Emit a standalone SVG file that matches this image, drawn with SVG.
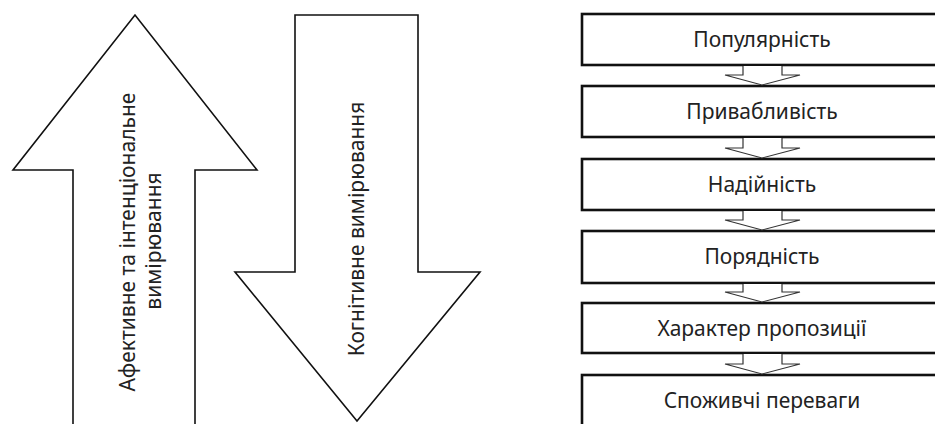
<svg xmlns="http://www.w3.org/2000/svg" width="935" height="424" viewBox="0 0 935 424">
<style>
.big{fill:#fff;stroke:#111;stroke-width:1.6;stroke-linejoin:miter}
.box{fill:#fff;stroke:#111;stroke-width:2.6}
.con{fill:#fff;stroke:#333;stroke-width:1.2;stroke-linejoin:miter}
text{font-family:"Noto Sans","Open Sans",sans-serif;fill:#222}
.bt{font-size:21px;text-anchor:middle}
.at{font-size:21px;text-anchor:middle}
</style>
<rect width="935" height="424" fill="#fff"/>
<g id="arrow-up">
<path class="big" d="M73,430 L73,170 L13,170 L135,15 L257,170 L195,170 L195,430 Z"/>
<text class="at" transform="translate(135,242) rotate(-90)">Афективне та інтенціональне</text>
<text class="at" transform="translate(161,241) rotate(-90)">вимірювання</text>
</g>
<g id="arrow-down">
<path class="big" d="M295,15 L418,15 L418,272 L480,272 L357,421 L235,272 L295,272 Z"/>
<text class="at" transform="translate(364,229) rotate(-90)">Когнітивне вимірювання</text>
</g>
<g id="n1"><rect class="box" x="582" y="14" width="362" height="51"/><text class="bt" x="762" y="47">Популярність</text></g>
<g id="n2"><rect class="box" x="582" y="86" width="362" height="51"/><text class="bt" x="762" y="119">Привабливість</text></g>
<g id="n3"><rect class="box" x="582" y="159" width="362" height="51"/><text class="bt" x="762" y="192">Надійність</text></g>
<g id="n4"><rect class="box" x="582" y="231" width="362" height="52"/><text class="bt" x="762" y="264">Порядність</text></g>
<g id="n5"><rect class="box" x="582" y="303" width="362" height="50"/><text class="bt" x="762" y="336">Характер пропозиції</text></g>
<g id="n6"><rect class="box" x="582" y="375" width="362" height="55"/><text class="bt" x="762" y="408">Споживчі переваги</text></g>
<g id="connectors">
<path class="con" d="M743,66 L743,75 L725,75 L762,85 L800,75 L782,75 L782,66"/>
<path class="con" d="M743,138 L743,148 L725,148 L762,158 L800,148 L782,148 L782,138"/>
<path class="con" d="M743,211 L743,220 L725,220 L762,230 L800,220 L782,220 L782,211"/>
<path class="con" d="M743,284 L743,292 L725,292 L762,302 L800,292 L782,292 L782,284"/>
<path class="con" d="M743,354 L743,364 L725,364 L762,374 L800,364 L782,364 L782,354"/>
</g>
</svg>
